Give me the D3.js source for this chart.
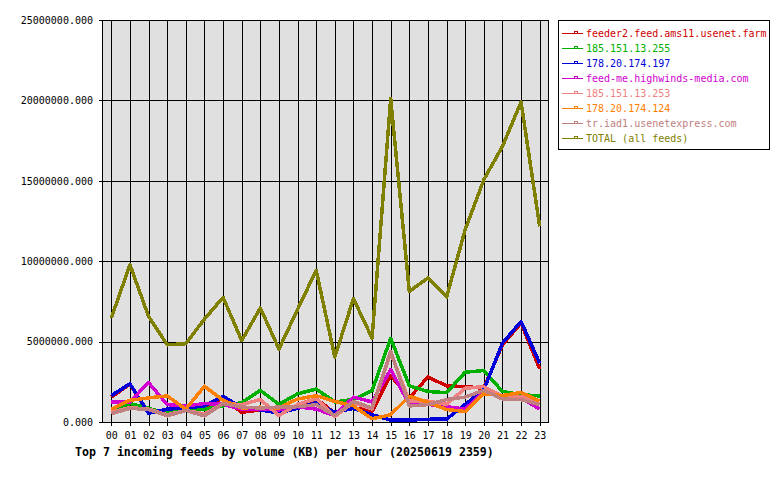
<!DOCTYPE html>
<html>
<head>
<meta charset="utf-8">
<script src="https://cdn.jsdelivr.net/npm/d3@7"></script>
<style>
  body { margin: 0; background: #fff; }
  svg { display: block; }
  text { font-family: "DejaVu Sans Mono", monospace; }
</style>
</head>
<body>
<svg id="chart" width="780" height="480"></svg>
<script>
// hours on the x axis
var hours = ["00","01","02","03","04","05","06","07","08","09","10","11",
             "12","13","14","15","16","17","18","19","20","21","22","23"];

// feed names (legend order = draw order)
var feedNames = [
    "feeder2.feed.ams11.usenet.farm",
    "185.151.13.255",
    "178.20.174.197",
    "feed-me.highwinds-media.com",
    "185.151.13.253",
    "178.20.174.124",
    "tr.iad1.usenetexpress.com",
    "TOTAL (all feeds)"
];
var feedColors = ["#d00000", "#00b000", "#0000d8", "#d000d0",
                  "#f08080", "#ff8000", "#c08080", "#808000"];

// volume per hour, in millions of KB
var ams11    = [1.55, 2.35, 0.55, 0.75, 0.80, 0.90, 1.50, 0.60, 0.75, 0.58, 0.85, 1.45,
                0.55, 0.90, 0.65, 2.90, 1.50, 2.80, 2.25, 2.20, 2.10, 4.80, 6.15, 3.30];
var ip255    = [0.70, 1.15, 0.85, 0.55, 0.75, 0.80, 1.00, 1.20, 1.97, 1.10, 1.75, 2.05,
                1.25, 1.40, 1.95, 5.20, 2.25, 1.90, 1.82, 3.10, 3.20, 1.90, 1.70, 1.62];
var ip197    = [1.64, 2.38, 0.55, 0.80, 0.87, 1.00, 1.60, 0.90, 0.75, 0.55, 0.85, 1.20,
                0.60, 0.85, 0.45, 0.12, 0.12, 0.17, 0.18, 1.10, 2.00, 4.90, 6.25, 3.65];
var highwinds = [1.25, 1.25, 2.45, 1.08, 1.00, 1.15, 1.10, 0.80, 0.80, 0.75, 0.95, 0.80,
                0.40, 1.55, 1.25, 3.25, 1.10, 1.10, 0.95, 0.80, 1.90, 1.55, 1.50, 0.80];
var ip253    = [0.60, 0.90, 0.80, 0.45, 0.72, 0.50, 1.15, 1.08, 1.40, 0.40, 1.10, 1.45,
                0.35, 1.20, 0.80, 4.30, 1.30, 1.30, 1.10, 2.10, 2.20, 1.60, 1.60, 1.15];
var ip124    = [0.80, 1.35, 1.50, 1.62, 0.80, 2.22, 1.35, 0.87, 0.92, 0.87, 1.43, 1.64,
                1.28, 1.00, 0.20, 0.45, 1.60, 1.22, 0.78, 0.65, 1.76, 1.64, 1.84, 1.30];
var iad1     = [0.52, 0.85, 0.78, 0.38, 0.72, 0.38, 1.15, 0.93, 0.87, 0.93, 0.95, 1.08,
                0.40, 1.28, 0.87, 4.39, 1.00, 1.08, 1.40, 1.55, 1.97, 1.43, 1.39, 1.08];
var total    = [6.47, 9.78, 6.57, 4.80, 4.87, 6.40, 7.75, 5.07, 7.09, 4.54, 7.00, 9.43,
                4.04, 7.67, 5.22, 20.1, 8.12, 8.96, 7.77, 11.96, 15.07, 17.14, 19.90, 12.16];

var yTicks = [0, 5, 10, 15, 20, 25];
var chartTitle = "Top 7 incoming feeds by volume (KB) per hour (20250619 2359)";

var series = [ams11, ip255, ip197, highwinds, ip253, ip124, iad1, total];

var svg = d3.select("#chart");
var plot = {left: 102, right: 549, top: 20, bottom: 422};

var x = d3.scaleLinear().domain([-0.5, 23.5]).range([plot.left, plot.right]);
var y = d3.scaleLinear().domain([0, 25]).range([plot.bottom, plot.top]);

// plot background
svg.append("rect")
    .attr("x", plot.left + 0.5)
    .attr("y", plot.top + 0.5)
    .attr("width", plot.right - plot.left - 1)
    .attr("height", plot.bottom - plot.top)
    .attr("fill", "#e0e0e0")
    .attr("stroke", "#000")
    .attr("shape-rendering", "crispEdges");

// grid lines
var grid = svg.append("g").attr("stroke", "#000").attr("shape-rendering", "crispEdges");
grid.selectAll("line.v")
    .data(hours)
    .enter().append("line")
    .attr("class", "v")
    .attr("x1", function(d, i) { return Math.round(x(i)) + 0.5; })
    .attr("x2", function(d, i) { return Math.round(x(i)) + 0.5; })
    .attr("y1", plot.top)
    .attr("y2", plot.bottom + 4);
grid.selectAll("line.h")
    .data(yTicks)
    .enter().append("line")
    .attr("class", "h")
    .attr("x1", plot.left - 3)
    .attr("x2", plot.right)
    .attr("y1", function(d) { return Math.round(y(d)) + 0.5; })
    .attr("y2", function(d) { return Math.round(y(d)) + 0.5; });

// y axis labels
var yAxis = d3.axisLeft(y)
    .tickValues(yTicks)
    .tickSize(0)
    .tickPadding(9)
    .tickFormat(function(d) { return d3.format(".3f")(d * 1000000); });
var gy = svg.append("g")
    .attr("transform", "translate(" + plot.left + ",0)")
    .call(yAxis);
gy.select(".domain").remove();
gy.selectAll("text")
    .attr("font-family", "DejaVu Sans Mono")
    .attr("font-size", "10px")
    .attr("fill", "#000");

// x axis labels
var xAxis = d3.axisBottom(x)
    .tickValues(d3.range(hours.length))
    .tickSize(0)
    .tickPadding(10)
    .tickFormat(function(d) { return hours[d]; });
var gx = svg.append("g")
    .attr("transform", "translate(0," + plot.bottom + ")")
    .call(xAxis);
gx.select(".domain").remove();
gx.selectAll("text")
    .attr("font-family", "DejaVu Sans Mono")
    .attr("font-size", "10px")
    .attr("fill", "#000");

// lines
var line = d3.line()
    .x(function(d, i) { return x(i); })
    .y(function(d) { return y(d); });

svg.append("g").selectAll("path")
    .data(series)
    .enter().append("path")
    .attr("d", line)
    .attr("fill", "none")
    .attr("stroke", function(d, i) { return feedColors[i]; })
    .attr("stroke-width", 3.5)
    .attr("stroke-linejoin", "round")
    .attr("shape-rendering", "crispEdges");

// title
svg.append("text")
    .attr("x", 75)
    .attr("y", 456)
    .attr("font-family", "DejaVu Sans Mono")
    .attr("font-weight", "bold")
    .attr("font-size", "11.6px")
    .attr("fill", "#000")
    .text(chartTitle);

// legend
var legend = svg.append("g");
legend.append("rect")
    .attr("x", 558.5)
    .attr("y", 20.5)
    .attr("width", 211)
    .attr("height", 129)
    .attr("fill", "#fff")
    .attr("stroke", "#000")
    .attr("shape-rendering", "crispEdges");

var rows = legend.selectAll("g.row")
    .data(feedNames)
    .enter().append("g")
    .attr("class", "row")
    .attr("transform", function(d, i) { return "translate(0," + (32.5 + i * 15) + ")"; });

rows.append("line")
    .attr("x1", 562).attr("x2", 583)
    .attr("y1", 0.5).attr("y2", 0.5)
    .attr("stroke", function(d, i) { return feedColors[i]; })
    .attr("shape-rendering", "crispEdges");
rows.append("rect")
    .attr("x", 574.5).attr("y", -1.5)
    .attr("width", 3).attr("height", 2)
    .attr("fill", "#fff")
    .attr("stroke", function(d, i) { return feedColors[i]; })
    .attr("shape-rendering", "crispEdges");
rows.append("text")
    .attr("x", 586)
    .attr("y", 4)
    .attr("font-family", "DejaVu Sans Mono")
    .attr("font-size", "10px")
    .attr("fill", function(d, i) { return feedColors[i]; })
    .text(function(d) { return d; });
</script>
</body>
</html>
